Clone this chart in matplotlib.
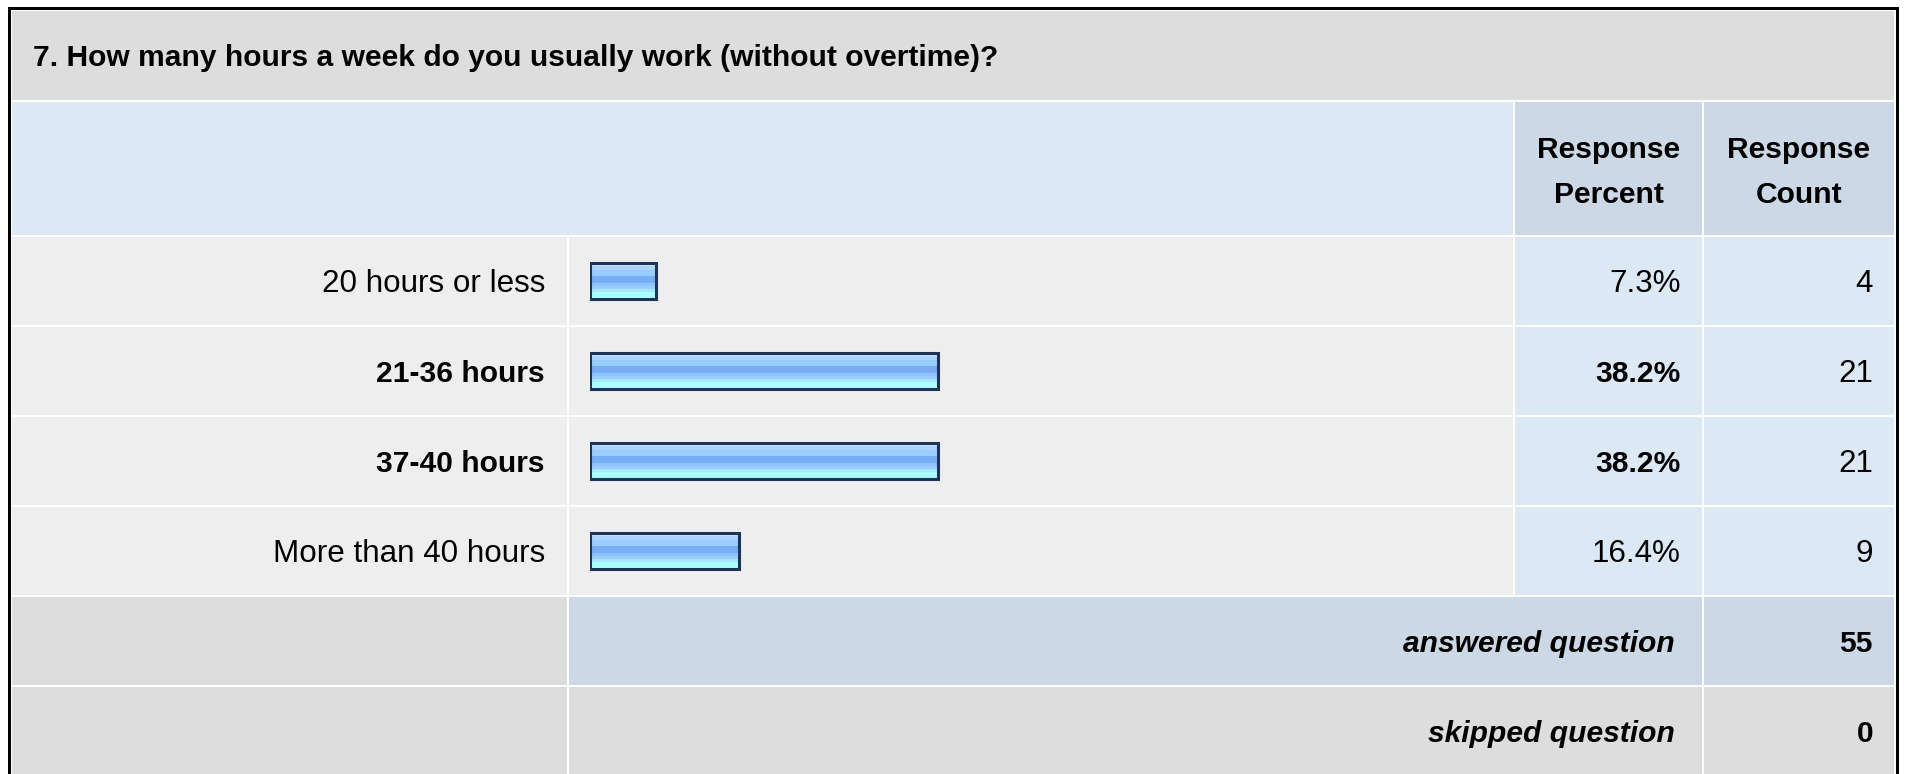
import numpy as np
import matplotlib
matplotlib.use("Agg")
import matplotlib.pyplot as plt
from matplotlib.patches import Rectangle
from matplotlib.colors import to_rgb

# ---------------- data ----------------
question = "7. How many hours a week do you usually work (without overtime)?"
categories = ["20 hours or less", "21-36 hours", "37-40 hours", "More than 40 hours"]
percents = [7.3, 38.2, 38.2, 16.4]
counts = [4, 21, 21, 9]
col_headers = ["Response\nPercent", "Response\nCount"]
answered = 55
skipped = 0

# ---------------- style ----------------
W, H = 1909, 774
FONT = "Liberation Sans"
BOLD_PT = 21.6
REG_PT = 22.6
C_GRAY = "#DDDDDD"
C_LIGHT = "#EEEEEE"
C_BLUE = "#DDE8F5"
C_BLUE2 = "#CCD8E6"
C_EDGE = "#1E3456"
grad_cols = ["#C6E2FF", "#AAD4FF", "#99CCFF", "#99CCFF", "#78AEF5", "#78AEF5",
             "#8EC3FF", "#9ACDFF", "#A8E8FF", "#AAFFFF", "#AAFFFF"]

fig = plt.figure(figsize=(W / 100, H / 100), dpi=100)
fig.patch.set_facecolor("white")
ax = fig.add_axes([0, 0, 1, 1])
ax.set_xlim(0, W)
ax.set_ylim(H, 0)
ax.axis("off")


def rect(x0, y0, x1, y1, color, z=1):
    ax.add_patch(Rectangle((x0, y0), x1 - x0, y1 - y0, facecolor=color,
                           edgecolor="none", zorder=z))


# layout (pixels)
L, R = 12, 1894
c_lab, c_bar0, c_sep1, c_pct0, c_sep2, c_cnt0 = 567, 569, 1513, 1515, 1702, 1704
y_title = (11, 100)
y_head = (102, 235)
row_top0, row_h, row_gap = 237, 88, 2.0
n = len(categories)
rows = [(row_top0 + i * (row_h + row_gap), row_top0 + i * (row_h + row_gap) + row_h)
        for i in range(n + 2)]

# frame
rect(8, 7, 1899, 10, "black", 5)
rect(8, 7, 11, H, "black", 5)
rect(1896, 7, 1899, H, "black", 5)

# title cell
rect(L, y_title[0], R, y_title[1], C_GRAY)
ax.text(33, (y_title[0] + y_title[1]) / 2 + 10.5, question, ha="left", va="baseline",
        fontsize=BOLD_PT, fontweight="bold", family=FONT, zorder=4)

# header
rect(L, y_head[0], c_sep1, y_head[1], C_BLUE)
rect(c_pct0, y_head[0], c_sep2, y_head[1], C_BLUE2)
rect(c_cnt0, y_head[0], R, y_head[1], C_BLUE2)
for (x0, x1), lab in zip([(c_pct0, c_sep2), (c_cnt0, R)], col_headers):
    for k, line in enumerate(lab.split("\n")):
        ax.text((x0 + x1) / 2, 158 + 45 * k, line, ha="center", va="baseline",
                fontsize=BOLD_PT, fontweight="bold", family=FONT, zorder=4)

# data rows
pmax = max(percents)
for i, (cat, p, c) in enumerate(zip(categories, percents, counts)):
    y0, y1 = rows[i]
    base = (y0 + y1) / 2 + 11
    rect(L, y0, c_lab, y1, C_LIGHT)
    rect(c_bar0, y0, c_sep1, y1, C_LIGHT)
    rect(c_pct0, y0, c_sep2, y1, C_BLUE)
    rect(c_cnt0, y0, R, y1, C_BLUE)
    bold = p == pmax
    ax.text(545, base, cat, ha="right", va="baseline", family=FONT,
            fontsize=BOLD_PT if bold else REG_PT,
            fontweight="bold" if bold else "normal", zorder=4)
    ax.text(1681, base, f"{p:.1f}%", ha="right", va="baseline", family=FONT,
            fontsize=BOLD_PT if bold else REG_PT,
            fontweight="bold" if bold else "normal", zorder=4)
    ax.text(1873, base, f"{c}", ha="right", va="baseline", family=FONT,
            fontsize=REG_PT, zorder=4)

# answered row
y0, y1 = rows[n]
rect(L, y0, c_lab, y1, C_GRAY)
rect(c_bar0, y0, c_sep2, y1, C_BLUE2)
rect(c_cnt0, y0, R, y1, C_BLUE2)
base = (y0 + y1) / 2 + 11
ax.text(1675, base, "answered question", ha="right", va="baseline", family=FONT,
        fontsize=BOLD_PT, fontweight="bold", style="italic", zorder=4)
ax.text(1873, base, f"{answered}", ha="right", va="baseline", family=FONT,
        fontsize=BOLD_PT, fontweight="bold", zorder=4)

# skipped row
y0, y1 = rows[n + 1]
rect(L, y0, c_lab, y1, C_GRAY)
rect(c_bar0, y0, c_sep2, y1, C_GRAY)
rect(c_cnt0, y0, R, y1, C_GRAY)
base = (y0 + y1) / 2 + 11
ax.text(1675, base, "skipped question", ha="right", va="baseline", family=FONT,
        fontsize=BOLD_PT, fontweight="bold", style="italic", zorder=4)
ax.text(1873, base, f"{skipped}", ha="right", va="baseline", family=FONT,
        fontsize=BOLD_PT, fontweight="bold", zorder=4)

# ---------------- bars ----------------
bx0, bx1 = 590, 1500
by0, by1 = rows[0][0] - 1, rows[n - 1][1] + 1
bax = fig.add_axes([bx0 / W, 1 - by1 / H, (bx1 - bx0) / W, (by1 - by0) / H])
bax.set_xlim(0, 100)
bax.set_ylim(n - 0.5, -0.5)
bax.axis("off")
bax.patch.set_alpha(0)
bars = bax.barh(np.arange(n), percents, height=0.40, facecolor="none",
                edgecolor=C_EDGE, linewidth=2.2, zorder=3)
grad = np.array([to_rgb(c) for c in grad_cols])[:, None, :]
for patch in bars:
    x, y, w, h = patch.get_x(), patch.get_y(), patch.get_width(), patch.get_height()
    im = bax.imshow(grad, extent=(x, x + w, y + h, y), aspect="auto",
                    interpolation="nearest", zorder=2)
    im.set_clip_path(patch)
bax.set_xlim(0, 100)
bax.set_ylim(n - 0.5, -0.5)

fig.savefig("out.png", dpi=100, facecolor="white")
